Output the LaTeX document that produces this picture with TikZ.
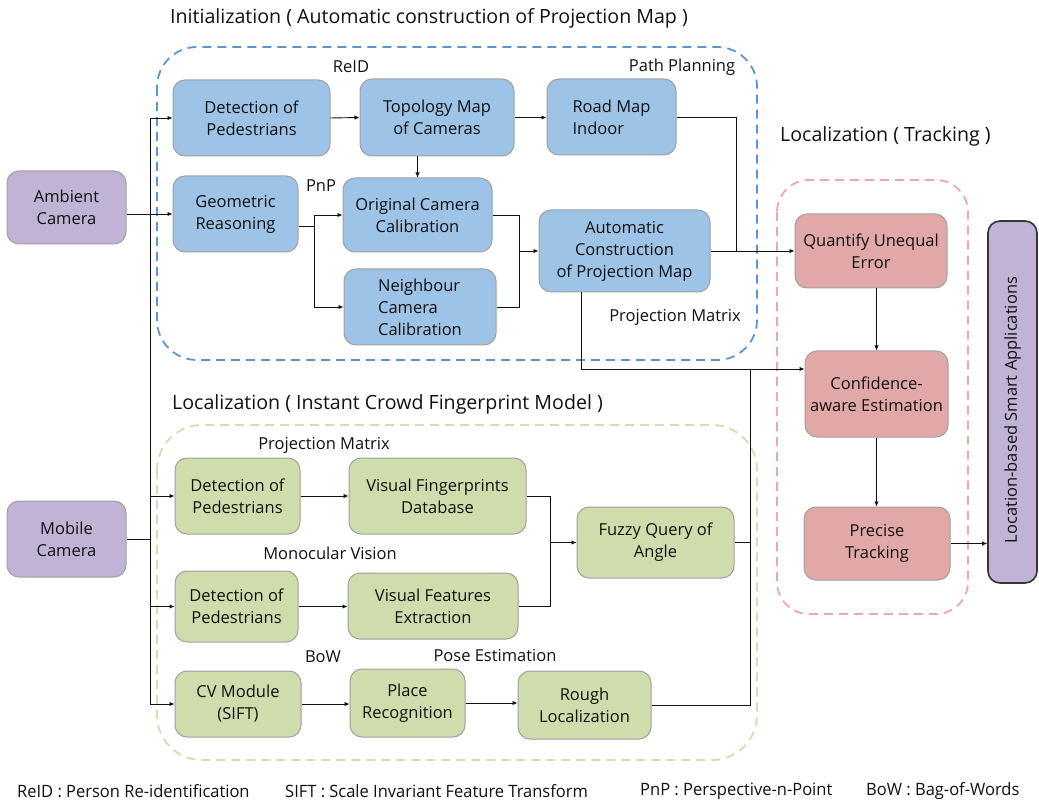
\documentclass[tikz,border=0pt]{standalone}
\usepackage{fontspec}
\setmainfont{Open Sans}
\newfontfamily\footfont[FakeStretch=0.97]{Open Sans}
\usetikzlibrary{arrows.meta}
\definecolor{bluefill}{HTML}{9DC3E6}
\definecolor{greenfill}{HTML}{CFDCAB}
\definecolor{redfill}{HTML}{E2A8A7}
\definecolor{purplefill}{HTML}{C1B3D5}
\definecolor{boxborder}{HTML}{A0A0A0}
\definecolor{bluedash}{HTML}{5B95CF}
\definecolor{greendash}{HTML}{D5DDB0}
\definecolor{reddash}{HTML}{EEA8A8}
\definecolor{ink}{HTML}{111111}
\begin{document}
\begin{tikzpicture}[x=1pt,y=-1pt,
  box/.style={draw=boxborder, line width=1pt, rounded corners=12pt, align=center,
    font=\fontsize{16.5}{22}\selectfont, text=ink, inner sep=2pt},
  bluebox/.style={box, fill=bluefill},
  greenbox/.style={box, fill=greenfill},
  redbox/.style={box, fill=redfill},
  purplebox/.style={box, fill=purplefill},
  lbl/.style={font=\fontsize{16.5}{20}\selectfont, text=ink, inner sep=0pt},
  ttl/.style={font=\fontsize{19.6}{24}\selectfont, text=ink, inner sep=0pt, anchor=west},
  foot/.style={font=\footfont\fontsize{17}{20}\selectfont, text=ink, inner sep=0pt, anchor=west},
  conn/.style={draw=ink, line width=0.9pt},
  arr/.style={conn, -{Latex[length=5pt,width=4.5pt]}},
  grp/.style={line width=1.8pt, dash pattern=on 9pt off 6pt},
]
\useasboundingbox[fill=white] (0,0) rectangle (1039,802);

% group frames
\draw[grp, draw=bluedash, rounded corners=40pt] (157,47) rectangle (757,360);
\draw[grp, draw=greendash, rounded corners=45pt] (157,425) rectangle (757,760);
\draw[grp, draw=reddash, rounded corners=32pt] (777,180) rectangle (968,614);

% titles
\node[ttl] (t1) at (170,18) {Initialization ( Automatic construction of Projection Map )};
\node[ttl] (t2) at (780,136) {Localization ( Tracking )};
\node[ttl] (t3) at (172,404) {Localization ( Instant Crowd Fingerprint Model )};

% sources
\node[purplebox, minimum width=119, minimum height=73] (Amb) at (66.5,207.5) {Ambient\\Camera};
\node[purplebox, minimum width=119, minimum height=76] (Mob) at (66.5,539) {Mobile\\Camera};

% initialization boxes
\node[bluebox, minimum width=157, minimum height=76] (A1) at (251.5,118) {Detection of\\Pedestrians};
\node[bluebox, minimum width=154, minimum height=77] (A2) at (437,117.5) {Topology Map\\of Cameras};
\node[bluebox, minimum width=129, minimum height=76, align=left] (A3) at (611.5,117) {Road Map\\Indoor};
\node[bluebox, minimum width=125, minimum height=76] (A4) at (235.5,214) {Geometric\\Reasoning};
\node[bluebox, minimum width=149, minimum height=74] (A5) at (417.5,215) {Original Camera\\Calibration};
\node[bluebox, minimum width=152, minimum height=76, align=left] (A6) at (420,307) {Neighbour\\Camera\\Calibration};
\node[bluebox, minimum width=171, minimum height=82] (A7) at (624.5,251) {Automatic\\Construction\\of Projection Map};

% tracking boxes
\node[redbox, minimum width=152, minimum height=74] (Q) at (871,251) {Quantify Unequal\\Error};
\node[redbox, minimum width=143, minimum height=86] (C) at (876.5,394) {Confidence-\\aware Estimation};
\node[redbox, minimum width=146, minimum height=73] (P) at (877,543.5) {Precise\\Tracking};
\node[box, fill=purplefill, draw=ink!85, line width=1.6pt, minimum width=49, minimum height=362] (L) at (1012.5,402) {};
\node[lbl, rotate=90] (Lt) at ([yshift=-8pt]L.center) {Location-based Smart Applications};

% fingerprint boxes
\node[greenbox, minimum width=125, minimum height=76] (B1) at (237.5,496) {Detection of\\Pedestrians};
\node[greenbox, minimum width=177, minimum height=76] (B2) at (437.5,496) {Visual Fingerprints\\Database};
\node[greenbox, minimum width=157, minimum height=71] (B3) at (655.5,542.5) {Fuzzy Query of\\Angle};
\node[greenbox, minimum width=123, minimum height=71] (B4) at (236.5,606.5) {Detection of\\Pedestrians};
\node[greenbox, minimum width=170, minimum height=66] (B5) at (433,606) {Visual Features\\Extraction};
\node[greenbox, minimum width=126, minimum height=66] (B6) at (238,704) {CV Module\\(SIFT)};
\node[greenbox, minimum width=115, minimum height=68] (B7) at (407.5,703) {Place\\Recognition};
\node[greenbox, minimum width=133, minimum height=68] (B8) at (584.5,705) {Rough\\Localization};

% labels
\node[lbl] (lReID) at (351,67) {ReID};
\node[lbl] (lPath) at (682,67) {Path Planning};
\node[lbl] (lPnP) at (321,186) {PnP};
\node[lbl] (lPM1) at (675,317) {Projection Matrix};
\node[lbl] (lPM2) at (324,445) {Projection Matrix};
\node[lbl] (lMono) at (330,553) {Monocular Vision};
\node[lbl] (lBoW) at (323,657) {BoW};
\node[lbl] (lPose) at (495,656) {Pose Estimation};

% junction coordinates
\coordinate (bus) at (150,0);
\coordinate (j1) at (314,226);
\coordinate (j2) at (519,0);
\coordinate (j3) at (736,0);
\coordinate (k) at (581,369);
\coordinate (j4) at (750,369);
\coordinate (j5) at (550,0);

% ambient / mobile bus
\draw[conn] (bus |- A1.west) -- (bus |- B6.west);
\draw[arr] (bus |- A1.west) -- (A1.west);
\draw[arr] (A4.west -| Amb.east) -- (A4.west);
\draw[conn] (Mob.east) -- (Mob.east -| bus);
\draw[arr] (bus |- B1.west) -- (B1.west);
\draw[arr] (bus |- B4.west) -- (B4.west);
\draw[arr] (bus |- B6.west) -- (B6.west);

% initialization connectors
\draw[arr] (A1.east) -- (A2.west);
\draw[arr] (A2.east) -- (A2.east -| A3.west);
\draw[arr] (A5.north |- A2.south) -- (A5.north);
\draw[conn] (A4.east |- j1) -- (j1);
\draw[arr] (j1) |- (A5.west);
\draw[arr] (j1) |- (A6.west);
\draw[conn] (A5.east) -| (j2 |- A7.west);
\draw[conn] (A6.east) -| (j2 |- A7.west);
\draw[arr] (j2 |- A7.west) -- (A7.west);
\draw[arr] (A7.east) -- (Q.west);
\draw[conn] (A3.east) -| (j3 |- Q.west);
\draw[conn] (A7.south -| k) -- (k);
\draw[arr] (k) -- (k -| C.west);

% fingerprint connectors
\draw[arr] (B1.east) -- (B1.east -| B2.west);
\draw[arr] (B4.east) -- (B4.east -| B5.west);
\draw[arr] (B6.east) -- (B6.east -| B7.west);
\draw[arr] (B7.east) -- (B7.east -| B8.west);
\draw[conn] (B2.east) -| (j5 |- B3.west);
\draw[conn] (B5.east) -| (j5 |- B3.west);
\draw[arr] (j5 |- B3.west) -- (B3.west);
\draw[conn] (B8.east) -| (j4);
\draw[conn] (B3.east) -- (B3.east -| j4);

% tracking connectors
\draw[arr] (C.north |- Q.south) -- (C.north);
\draw[arr] (C.south) -- (C.south |- P.north);
\draw[arr] (P.east) -- (P.east -| L.west);

% footer
\node[foot] (f1) at (17,791) {ReID : Person Re-identification};
\node[foot] (f2) at (285,791) {SIFT : Scale Invariant Feature Transform};
\node[foot] (f3) at (640,791) {PnP : Perspective-n-Point};
\node[foot] (f4) at (866,791) {BoW : Bag-of-Words};
\end{tikzpicture}
\end{document}
